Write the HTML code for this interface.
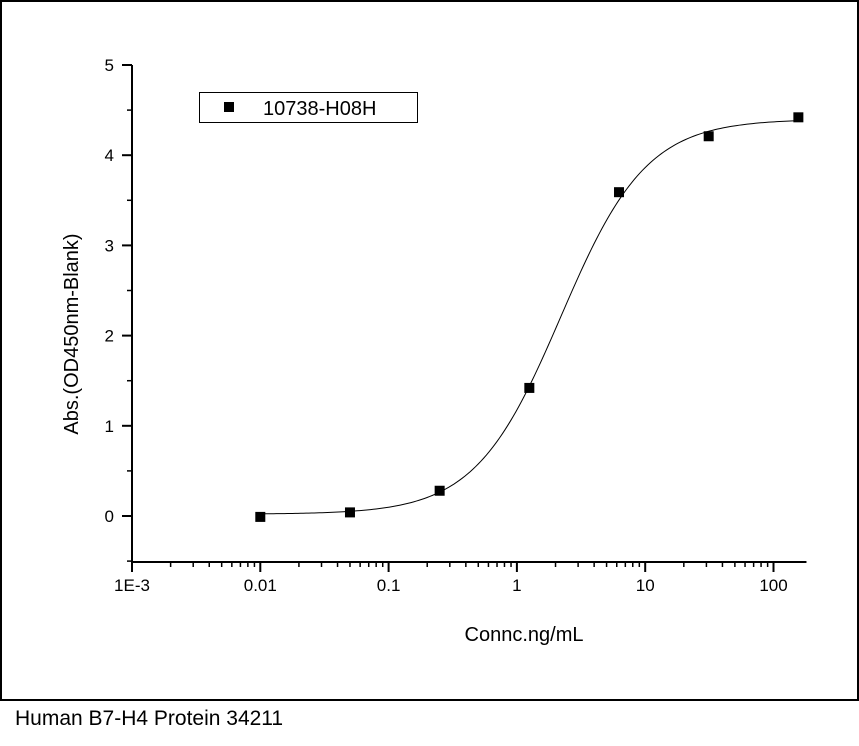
<!DOCTYPE html>
<html><head><meta charset="utf-8">
<style>
html,body{margin:0;padding:0;background:#fff;}
body{width:859px;height:746px;position:relative;overflow:hidden;font-family:"Liberation Sans",sans-serif;}
#frame{position:absolute;left:0;top:0;width:855px;height:697px;border:2px solid #000;}
#caption{position:absolute;left:15px;top:707px;font-size:21px;font-family:"Liberation Sans",sans-serif;color:#000;}
svg{position:absolute;left:0;top:0;}
</style></head>
<body>
<div id="frame"></div>
<svg id="chart" width="859" height="746"></svg>
<div id="caption">Human B7-H4 Protein 34211</div>
<script>
const concentrations = [0.01, 0.05, 0.25, 1.25, 6.25, 31.25, 156.25];
const absorbance = [-0.01, 0.04, 0.28, 1.42, 3.59, 4.21, 4.42];
const fitParams = [0.02, 4.4, 2.2, 1.3]; // bottom, top, EC50, hill
const xTickValues = [0.001, 0.01, 0.1, 1, 10, 100];
const xTickLabels = ["1E-3", "0.01", "0.1", "1", "10", "100"];
const yTickValues = [0, 1, 2, 3, 4, 5];
const yTickLabels = ["0", "1", "2", "3", "4", "5"];
const seriesName = "10738-H08H";

const NS = "http://www.w3.org/2000/svg";
const svg = document.getElementById('chart');
const X0 = 132, XD = 128.3, Y0 = 516, YU = 90.2;
const xMinLog = -3, xMaxLog = 2.257, yMin = -0.51, yMax = 5;
function sx(v){ return X0 + (Math.log10(v) - xMinLog) * XD; }
function sy(v){ return Y0 - v * YU; }
function mk(tag, attrs){ const e = document.createElementNS(NS, tag); for (const k in attrs) e.setAttribute(k, attrs[k]); svg.appendChild(e); return e; }

const xa = mk('line', {x1: X0, y1: sy(yMin), x2: X0 + (xMaxLog - xMinLog) * XD, y2: sy(yMin), stroke: '#000', 'stroke-width': 2});


const ya = mk('line', {x1: X0, y1: sy(yMin) + 1, x2: X0, y2: sy(yMax), stroke: '#000', 'stroke-width': 2});



const axY = sy(yMin);
xTickValues.forEach((v, i) => {
  const x = sx(v);
  const t = mk('line', {x1: x, y1: axY, x2: x, y2: axY + 10, stroke: '#000', 'stroke-width': 2});
  
  
  const lb = mk('text', {x: x, y: axY + 29, 'text-anchor': 'middle', 'font-size': 17, fill: '#000'});
  lb.textContent = xTickLabels[i];
  
  
  for (let m = 2; m <= 9; m++) {
    const mv = v * m;
    if (Math.log10(mv) > xMaxLog) break;
    const mx = sx(mv);
    const mt = mk('line', {x1: mx, y1: axY, x2: mx, y2: axY + 5, stroke: '#000', 'stroke-width': 1.5});
    
    
  }
});
yTickValues.forEach((v, i) => {
  const y = sy(v);
  const t = mk('line', {x1: X0 - 10, y1: y, x2: X0, y2: y, stroke: '#000', 'stroke-width': 2});
  
  
  const lb = mk('text', {x: X0 - 18, y: y + 6, 'text-anchor': 'end', 'font-size': 17, fill: '#000'});
  lb.textContent = yTickLabels[i];
  
  
  const hv = v - 0.5;
  if (hv >= yMin) {
    const mt = mk('line', {x1: X0 - 5, y1: sy(hv), x2: X0, y2: sy(hv), stroke: '#000', 'stroke-width': 1.5});
    
    
  }
});

const xt = mk('text', {x: 524, y: 641, 'text-anchor': 'middle', 'font-size': 20, fill: '#000'});
xt.textContent = 'Connc.ng/mL';


const yt = mk('text', {x: 0, y: 0, 'text-anchor': 'middle', 'font-size': 20, fill: '#000', transform: 'translate(78,334) rotate(-90)'});
yt.textContent = 'Abs.(OD450nm-Blank)';



function fit(c){ const [b, t, e, h] = fitParams; return b + (t - b) / (1 + Math.pow(e / c, h)); }
let d = '';
const l0 = Math.log10(concentrations[0]), l1 = Math.log10(concentrations[concentrations.length - 1]);
for (let i = 0; i <= 200; i++) {
  const c = Math.pow(10, l0 + (l1 - l0) * i / 200);
  d += (i ? 'L' : 'M') + sx(c).toFixed(2) + ',' + sy(fit(c)).toFixed(2);
}
const curve = mk('path', {d: d, fill: 'none', stroke: '#000', 'stroke-width': 1});



concentrations.forEach((c, i) => {
  const r = mk('rect', {x: sx(c) - 5, y: sy(absorbance[i]) - 5, width: 10, height: 10, fill: '#000'});
  
  
});

const lg = mk('rect', {x: 199.5, y: 92.5, width: 218, height: 30, fill: '#fff', stroke: '#000', 'stroke-width': 1});


const lm = mk('rect', {x: 224, y: 102, width: 10, height: 10, fill: '#000'});


const lt = mk('text', {x: 263, y: 115, 'font-size': 20, fill: '#000'});
lt.textContent = seriesName;


</script>
</body></html>
